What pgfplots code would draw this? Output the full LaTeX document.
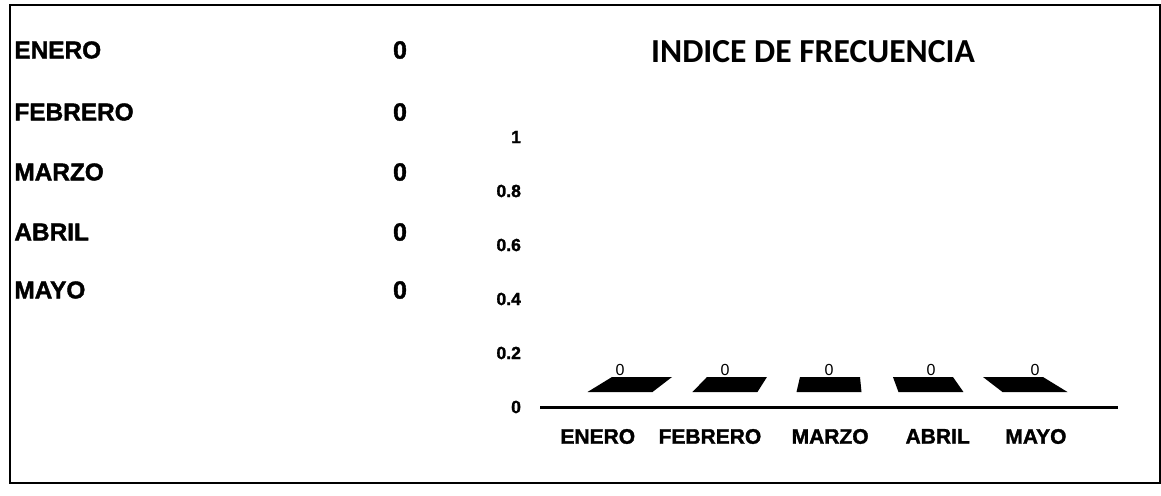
\documentclass[border=0pt]{standalone}
\usepackage{fontspec}
\setmainfont{Liberation Sans}[BoldFeatures={FakeBold=1.5}]
\newfontfamily\titlefont{Carlito}
\usepackage{pgfplots}
\pgfplotsset{compat=1.18}
\usepackage{pgfplotstable}

% flat top face of a zero-height 3D bar; \slant comes from the table
\pgfdeclareplotmark{caja}{%
  \pgfpathmoveto{\pgfpoint{-16.25pt}{7.5pt}}%
  \pgfpathlineto{\pgfpoint{16.25pt}{7.5pt}}%
  \pgfpathlineto{\pgfpoint{(15+\slant)*1pt}{15pt}}%
  \pgfpathlineto{\pgfpoint{(-15+\slant)*1pt}{15pt}}%
  \pgfpathclose
  \pgfusepathqfill
}

\pgfplotstableread{
mes      pos    valor  slant
ENERO    0.692  0      11
FEBRERO  1.600  0      6
MARZO    2.500  0      0.5
ABRIL    3.382  0      -4
MAYO     4.282  0      -11
}\datos

\begin{document}
\begin{tikzpicture}
\useasboundingbox (0,0) rectangle (580.5pt,247.5pt);
\draw[line width=1pt] (5pt,6pt) rectangle (580pt,245pt);

% left table
\foreach \m/\y in {ENERO/50, FEBRERO/112, MARZO/172, ABRIL/232, MAYO/290}{
  \node[anchor=west, font=\fontsize{12.2}{15}\selectfont\bfseries, inner sep=0pt]
    at (7pt,{(495-\y)*0.5pt}) {\m};
  \node[font=\fontsize{12.5}{15}\selectfont\bfseries, inner sep=0pt]
    at (200pt,{(495-\y)*0.5pt}) {0};
}

% title
\node[font=\titlefont\fontsize{16.8}{18}\selectfont\bfseries] at (406.5pt,221.5pt)
  {INDICE DE FRECUENCIA};

\begin{axis}[
  at={(270pt,44pt)}, anchor=south west,
  scale only axis, width=289pt, height=135pt,
  xmin=0, xmax=5, ymin=0, ymax=1,
  clip=false,
  axis x line=bottom, axis y line=left,
  x axis line style={line width=1.5pt, -},
  y axis line style={draw=none},
  major tick length=0pt,
  xtick={0.50,1.47,2.51,3.44,4.29},
  xticklabels={ENERO,FEBRERO,MARZO,ABRIL,MAYO},
  ytick={0,0.2,0.4,0.6,0.8,1},
  /pgf/number format/assume math mode=true,
  xticklabel style={font=\fontsize{10.5}{12}\selectfont\bfseries, yshift=-7.5pt},
  yticklabel style={font=\fontsize{8.8}{10}\selectfont\bfseries, xshift=-6pt},
]
\addplot[only marks, mark=caja, black,
  visualization depends on={\thisrow{slant} \as \slant},
  nodes near coords={\pgfmathprintnumber{\pgfkeysvalueof{/data point/y}}},
  every node near coord/.append style={anchor=center, yshift=18.5pt,
    font=\fontsize{8}{9}\selectfont},
] table[x=pos, y=valor] {\datos};
\end{axis}
\end{tikzpicture}
\end{document}
